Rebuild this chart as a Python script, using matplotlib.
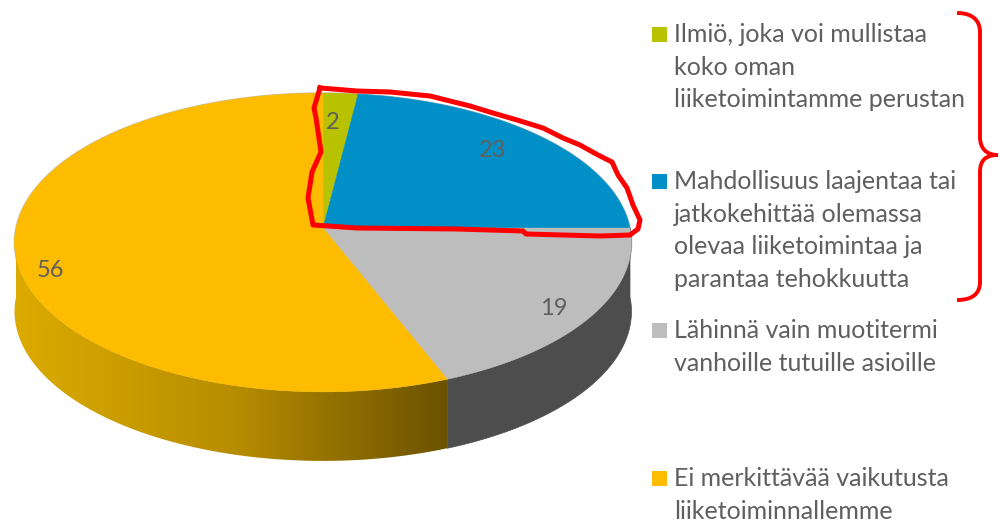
import numpy as np
import matplotlib.pyplot as plt
from matplotlib.patches import Polygon, Rectangle, PathPatch
from matplotlib.path import Path
from matplotlib.colors import LinearSegmentedColormap

plt.rcParams['font.family'] = ['Lato', 'DejaVu Sans']

# chart data
values = [2, 23, 19, 56]
colors = ['#b9c200', '#008fc7', '#bdbdbd', '#fdbc00']
legend_labels = [
    ['Ilmiö, joka voi mullistaa', 'koko oman', 'liiketoimintamme perustan'],
    ['Mahdollisuus laajentaa tai', 'jatkokehittää olemassa', 'olevaa liiketoimintaa ja', 'parantaa tehokkuutta'],
    ['Lähinnä vain muotitermi', 'vanhoille tutuille asioille'],
    ['Ei merkittävää vaikutusta', 'liiketoiminnallemme'],
]
legend_y = [42, 189, 338, 486]
label_pos = [(333, 129), (493, 157), (554, 315), (50, 277)]
text_color = '#5f5f5f'

# pie geometry in pixels
cx, cy = 323, 228
rx, ry = 307, 148
k = 0.097
depth = 69


def project(theta, r=1.0, dy=0):
    # perspective of the flat disc, theta is clockwise from the top
    w = 1 + k * r * np.cos(theta)
    x = cx + rx * r * np.sin(theta) / w
    y = cy - ry * r * np.cos(theta) / w + dy
    return x, y


def arc(t0, t1, dy=0):
    t = np.linspace(t0, t1, 150)
    x, y = project(t, dy=dy)
    return np.column_stack([x, y])


fig = plt.figure(figsize=(10, 5.21), dpi=100)
ax = fig.add_axes([0, 0, 1, 1])
ax.set_xlim(0, 1000)
ax.set_ylim(521, 0)
ax.axis('off')

edges = 2 * np.pi * np.cumsum([0] + values) / sum(values)

# far rim highlight
ax.add_patch(Polygon(arc(0, 2 * np.pi), closed=True, fc='none', ec='#c4c4c4', lw=1.2, zorder=1))

# side walls, only the front part shows
gray_t1 = edges[3]
seam_x, _ = project(gray_t1)
ax.add_patch(Polygon(np.vstack([arc(np.pi / 2, gray_t1), arc(np.pi / 2, gray_t1, depth)[::-1]]),
                     closed=True, fc='#4d4d4d', ec='#4d4d4d', lw=0.5, zorder=2))

gold_end = 3 * np.pi / 2
gold = Polygon(np.vstack([arc(gray_t1, gold_end), arc(gray_t1, gold_end, depth)[::-1]]),
               closed=True, fc='none', ec='none', transform=ax.transData)
ax.add_patch(gold)
cmap = LinearSegmentedColormap.from_list('gold', ['#dcab00', '#b88e00', '#6b5100'])
grad = np.linspace(0, 1, 256).reshape(1, -1)
im = ax.imshow(grad, cmap=cmap, extent=[13, seam_x + 1, 480, 220], aspect='auto', zorder=2.5)
im.set_clip_path(gold)
ax.set_xlim(0, 1000)
ax.set_ylim(521, 0)

# top face
for i in range(len(values)):
    pts = np.vstack([[cx, cy], arc(edges[i], edges[i + 1])])
    ax.add_patch(Polygon(pts, closed=True, fc=colors[i], ec=colors[i], lw=0.3, zorder=3))

for v, (x, y) in zip(values, label_pos):
    ax.text(x, y, str(v), color=text_color, fontsize=17, ha='center', va='baseline', zorder=6)

# legend
for lines, y0, c in zip(legend_labels, legend_y, colors):
    ax.add_patch(Rectangle((652, y0 - 15), 15, 15, fc=c, ec='none', zorder=5))
    for j, line in enumerate(lines):
        ax.text(674, y0 + j * 32.6, line, color=text_color, fontsize=18, va='baseline', ha='left',
                clip_on=False)

# red hand drawn outline round the two first slices
outline_x = [320, 333, 357, 390, 430, 450, 470, 493, 517, 543, 563, 580, 598, 612, 618, 627, 633, 640,
             638, 630, 600, 526, 523, 457, 357, 313, 308, 312, 321, 316, 314, 320]
outline_y = [88, 89, 91, 92, 96, 101, 106, 113, 120, 128, 138, 145, 155, 162, 175, 188, 205, 220,
             229, 235, 236, 234, 231, 229, 228, 225, 198, 172, 152, 118, 108, 88]
ax.plot(outline_x, outline_y, color='#ff0000', lw=3.6, solid_joinstyle='round', zorder=7)

# red brace
verts = [(957, 13), (972, 13), (980, 20), (980, 32), (980, 137), (980, 148), (986, 155), (998, 155),
         (986, 155), (980, 160), (980, 172), (980, 282), (980, 294), (972, 300), (957, 300)]
codes = [Path.MOVETO, Path.CURVE4, Path.CURVE4, Path.CURVE4, Path.LINETO, Path.CURVE4, Path.CURVE4, Path.CURVE4,
         Path.CURVE4, Path.CURVE4, Path.CURVE4, Path.LINETO, Path.CURVE4, Path.CURVE4, Path.CURVE4]
ax.add_patch(PathPatch(Path(verts, codes), fc='none', ec='#ff0000', lw=2.8, zorder=7))

fig.savefig('out.png', dpi=100)
